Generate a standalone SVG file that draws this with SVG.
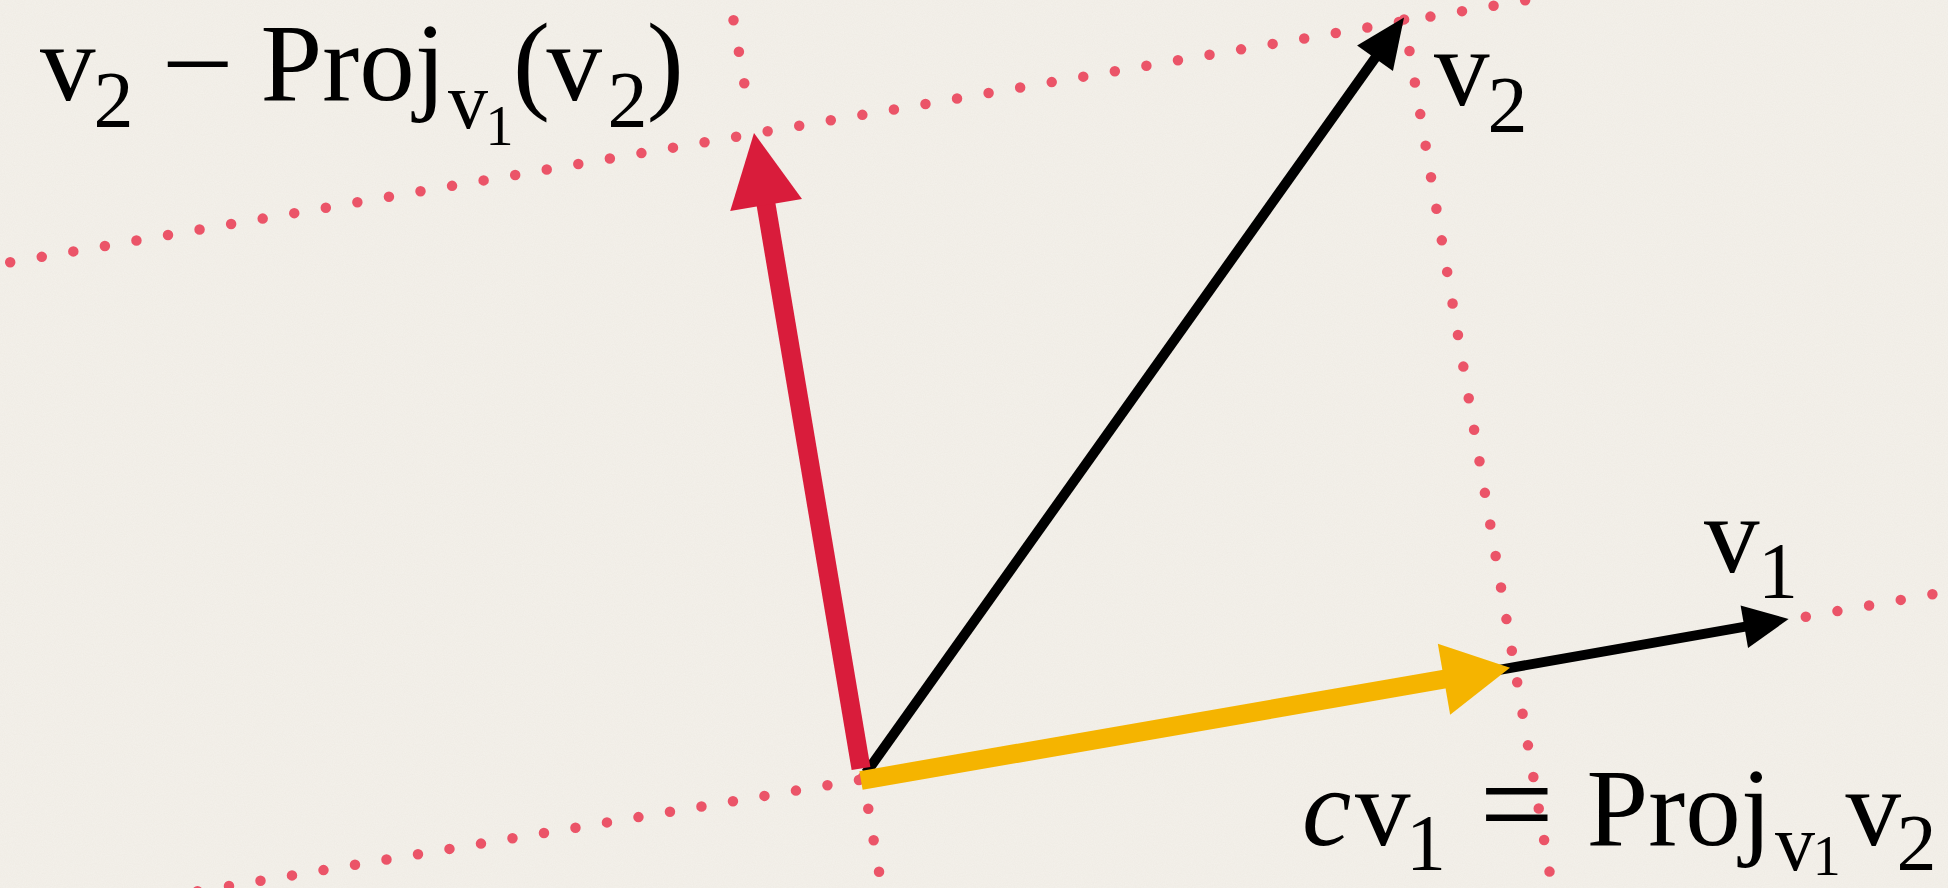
<svg xmlns="http://www.w3.org/2000/svg" width="1948" height="888" viewBox="0 0 1948 888">
  <defs>
    <style>
      .dots { fill: none; stroke: #EB5468; stroke-width: 10.5; stroke-linecap: round; }
      .shaft { fill: none; stroke-linecap: butt; }
      .math { font-family: 'Liberation Serif', 'Times New Roman', serif; fill: #000; }
    </style>
    <filter id="paper" x="0" y="0" width="100%" height="100%">
      <feTurbulence type="fractalNoise" baseFrequency="0.9" numOctaves="2" seed="3" result="n"/>
      <feColorMatrix in="n" type="matrix" values="0 0 0 0 0.55  0 0 0 0 0.5  0 0 0 0 0.4  0 0 0 0.18 0"/>
    </filter>
    <marker id="headRed" markerUnits="userSpaceOnUse" orient="auto" refX="0" refY="0" markerWidth="80" markerHeight="80" overflow="visible">
      <path d="M-1,-36.4 L72,0 L-1,36.4 Z" fill="#D91C3B"/>
    </marker>
    <marker id="headYellow" markerUnits="userSpaceOnUse" orient="auto" refX="0" refY="0" markerWidth="80" markerHeight="80" overflow="visible">
      <path d="M-1,-36 L66,0 L-1,36 Z" fill="#F5B400"/>
    </marker>
    <marker id="headBlackL" markerUnits="userSpaceOnUse" orient="auto" refX="0" refY="0" markerWidth="60" markerHeight="60" overflow="visible">
      <path d="M-1,-22 L49,0 L-1,22 Z" fill="#000"/>
    </marker>
    <marker id="headBlackS" markerUnits="userSpaceOnUse" orient="auto" refX="0" refY="0" markerWidth="60" markerHeight="60" overflow="visible">
      <path d="M-1,-21.5 L44,0 L-1,21.5 Z" fill="#000"/>
    </marker>
  </defs>

  <rect x="0" y="0" width="1948" height="888" fill="#F4F1EB"/>
  <rect x="0" y="0" width="1948" height="888" filter="url(#paper)" opacity="0.6"/>

  <g id="connectors">
    <g id="guides">
      <path class="dots" stroke-dasharray="0 32.03" d="M10.2 262.3 L1588.2 -10.7"/>
      <path class="dots" stroke-dasharray="0 32" d="M733.5 20.2 L749.67 114.82"/>
      <path class="dots" stroke-dasharray="0 32" d="M862.9 777.2 L884.4 903.3"/>
      <path class="dots" stroke-dasharray="0 31.94" d="M197.5 891.3 L859 780"/>
      <path class="dots" stroke-dasharray="0 32.14" d="M1805.8 616.7 L1964.1 588.7"/>
      <path class="dots" stroke-dasharray="0 32.02" d="M1404.1 19.4 L1554.9 903.2"/>
    </g>
    <g id="vectors">
      <path id="v1" class="shaft" stroke="#000" stroke-width="10" d="M1475.4 674.1 L1745.3 626.6" marker-end="url(#headBlackS)"/>
      <path id="v2" class="shaft" stroke="#000" stroke-width="10" d="M866 773 L1375.6 57.4" marker-end="url(#headBlackL)"/>
      <path id="proj" class="shaft" stroke="#F5B400" stroke-width="19" d="M861 780.5 L1444.97 679" marker-end="url(#headYellow)"/>
      <path id="perp" class="shaft" stroke="#D91C3B" stroke-width="19" d="M861 768.5 L765.95 204" marker-end="url(#headRed)"/>
    </g>
  </g>

  <g id="label-perp">
    <text class="math">
      <tspan x="40" y="100" font-size="111">v</tspan>
      <tspan x="93.6" y="127" font-size="80">2</tspan>
      <tspan x="260.5" y="100" font-size="111">Proj</tspan>
      <tspan x="448" y="128" font-size="80">v</tspan>
      <tspan x="485.5" y="145" font-size="56">1</tspan>
      <tspan x="513" y="99" font-size="111">(</tspan>
      <tspan x="546.5" y="100" font-size="111">v</tspan>
      <tspan x="607.6" y="127" font-size="80">2</tspan>
      <tspan x="646.8" y="99" font-size="111">)</tspan>
    </text>
    <text class="math" font-size="111" transform="translate(161.5 101) scale(1.16 1)">−</text>
  </g>

  <g id="label-v2">
    <text class="math">
      <tspan x="1434" y="105" font-size="111">v</tspan>
      <tspan x="1487.6" y="132" font-size="80">2</tspan>
    </text>
  </g>

  <g id="label-v1">
    <text class="math">
      <tspan x="1704" y="572" font-size="111">v</tspan>
      <tspan x="1758" y="598" font-size="80">1</tspan>
    </text>
  </g>

  <g id="label-proj">
    <text class="math">
      <tspan x="1302" y="845" font-size="111" font-style="italic">c</tspan>
      <tspan x="1355" y="845" font-size="111">v</tspan>
      <tspan x="1406" y="870" font-size="80">1</tspan>
      <tspan x="1479.5" y="848" font-size="132">=</tspan>
      <tspan x="1586.6" y="845" font-size="111">Proj</tspan>
      <tspan x="1775" y="870" font-size="80">v</tspan>
      <tspan x="1812.8" y="875" font-size="56">1</tspan>
      <tspan x="1845.5" y="845" font-size="111">v</tspan>
      <tspan x="1896.6" y="870" font-size="80">2</tspan>
    </text>
  </g>
</svg>
